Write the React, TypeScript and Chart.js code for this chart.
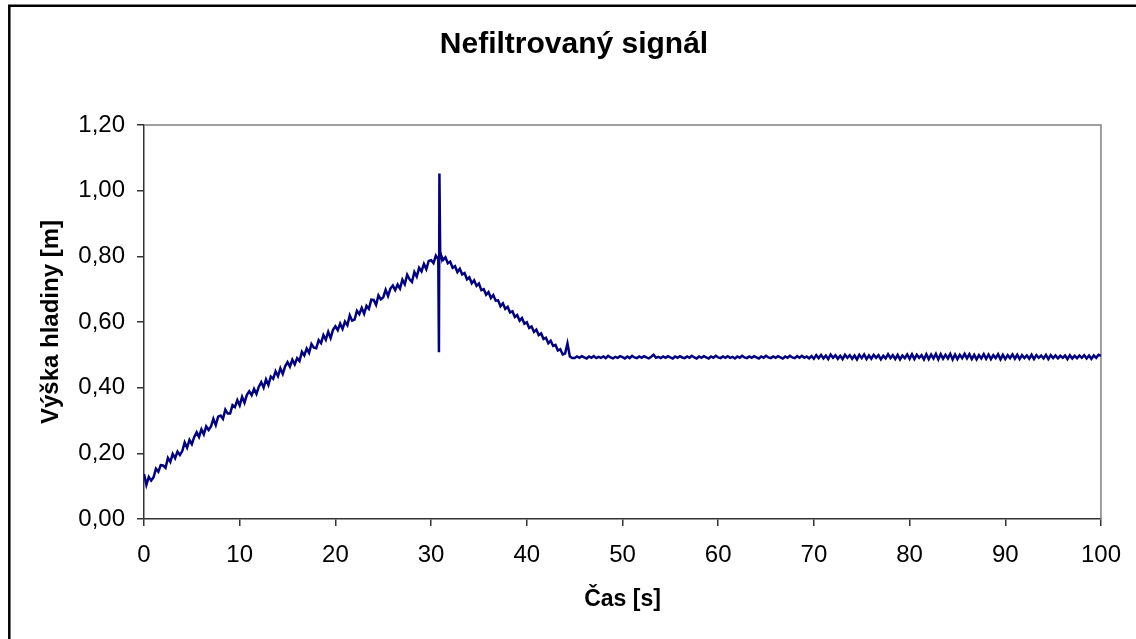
import React, { useEffect, useRef } from "react";
import { Chart, registerables } from "chart.js";

Chart.register(...registerables);

const TITLE = "Nefiltrovaný signál";
const X_TITLE = "Čas [s]";
const Y_TITLE = "Výška hladiny [m]";

const SAMPLE_PERIOD_S = 0.25;
const RISING_START_S = 0;
const FALLING_START_S = 31;
const STEADY_START_S = 45;
const X_TICK_VALUES = [0, 10, 20, 30, 40, 50, 60, 70, 80, 90, 100];
const Y_TICK_VALUES = [0, 0.2, 0.4, 0.6, 0.8, 1.0, 1.2];

// t = 0 .. 30.75 s (filling)
const risingLevels = [
  0.137, 0.104, 0.128, 0.117,
  0.127, 0.153, 0.144, 0.164,
  0.163, 0.156, 0.186, 0.174,
  0.198, 0.185, 0.205, 0.195,
  0.207, 0.233, 0.217, 0.241,
  0.228, 0.250, 0.264, 0.250,
  0.273, 0.258, 0.282, 0.271,
  0.282, 0.305, 0.286, 0.312,
  0.315, 0.305, 0.333, 0.321,
  0.321, 0.347, 0.341, 0.362,
  0.346, 0.372, 0.354, 0.378,
  0.389, 0.377, 0.396, 0.381,
  0.403, 0.417, 0.400, 0.425,
  0.408, 0.434, 0.427, 0.450,
  0.435, 0.459, 0.442, 0.465,
  0.478, 0.464, 0.485, 0.471,
  0.490, 0.481, 0.509, 0.498,
  0.519, 0.506, 0.533, 0.522,
  0.520, 0.545, 0.536, 0.560,
  0.546, 0.570, 0.551, 0.576,
  0.587, 0.575, 0.595, 0.579,
  0.601, 0.590, 0.620, 0.604,
  0.607, 0.634, 0.624, 0.643,
  0.625, 0.649, 0.640, 0.668,
  0.667, 0.652, 0.681, 0.669,
  0.675, 0.698, 0.679, 0.702,
  0.711, 0.697, 0.714, 0.702,
  0.729, 0.715, 0.744, 0.730,
  0.722, 0.752, 0.738, 0.765,
  0.754, 0.777, 0.761, 0.786,
  0.788, 0.779, 0.802, 0.791,
];

// measurement spike around t = 30.9 s
const spikeTimes = [30.82, 30.87, 30.95];
const spikeLevels = [0.508, 1.052, 0.812];

// t = 31.0 .. 44.75 s (draining)
const fallingLevels = [
  0.806, 0.789, 0.797, 0.779,
  0.784, 0.765, 0.770, 0.752,
  0.762, 0.745, 0.749, 0.730,
  0.736, 0.718, 0.727, 0.710,
  0.717, 0.697, 0.700, 0.683,
  0.691, 0.673, 0.682, 0.665,
  0.666, 0.648, 0.657, 0.640,
  0.646, 0.629, 0.633, 0.615,
  0.621, 0.604, 0.612, 0.595,
  0.599, 0.582, 0.586, 0.570,
  0.577, 0.560, 0.565, 0.548,
  0.552, 0.535, 0.543, 0.527,
  0.530, 0.513, 0.517, 0.501,
  0.504, 0.535, 0.495, 0.490,
];

// t = 45 .. 100 s (steady level)
const steadyLevels = [
  0.490, 0.495, 0.491, 0.496,
  0.492, 0.489, 0.495, 0.491,
  0.496, 0.490, 0.494, 0.491,
  0.495, 0.490, 0.497, 0.492,
  0.489, 0.494, 0.491, 0.496,
  0.493, 0.489, 0.495, 0.490,
  0.497, 0.492, 0.490, 0.495,
  0.491, 0.496, 0.492, 0.489,
  0.494, 0.500, 0.491, 0.494,
  0.490, 0.495, 0.491, 0.496,
  0.492, 0.489, 0.495, 0.491,
  0.496, 0.492, 0.490, 0.495,
  0.491, 0.497, 0.492, 0.489,
  0.495, 0.491, 0.496, 0.492,
  0.489, 0.495, 0.491, 0.497,
  0.492, 0.490, 0.495, 0.491,
  0.496, 0.491, 0.494, 0.489,
  0.495, 0.491, 0.497, 0.492,
  0.490, 0.495, 0.491, 0.496,
  0.492, 0.489, 0.495, 0.491,
  0.497, 0.492, 0.490, 0.495,
  0.491, 0.496, 0.492, 0.489,
  0.495, 0.491, 0.497, 0.492,
  0.490, 0.496, 0.491, 0.497,
  0.491, 0.495, 0.489, 0.496,
  0.488, 0.499, 0.490, 0.500,
  0.489, 0.498, 0.487, 0.501,
  0.491, 0.499, 0.488, 0.497,
  0.487, 0.500, 0.491, 0.499,
  0.488, 0.498, 0.486, 0.500,
  0.490, 0.501, 0.487, 0.498,
  0.488, 0.500, 0.491, 0.499,
  0.486, 0.497, 0.489, 0.502,
  0.490, 0.499, 0.487, 0.500,
  0.486, 0.498, 0.490, 0.501,
  0.488, 0.502, 0.487, 0.500,
  0.491, 0.499, 0.486, 0.502,
  0.487, 0.501, 0.489, 0.503,
  0.486, 0.502, 0.488, 0.500,
  0.489, 0.503, 0.486, 0.501,
  0.487, 0.500, 0.490, 0.503,
  0.489, 0.502, 0.487, 0.500,
  0.486, 0.499, 0.489, 0.502,
  0.488, 0.501, 0.487, 0.499,
  0.490, 0.502, 0.486, 0.500,
  0.487, 0.499, 0.490, 0.501,
  0.488, 0.500, 0.487, 0.499,
  0.490, 0.498, 0.488, 0.500,
  0.487, 0.499, 0.491, 0.498,
  0.489, 0.500, 0.487, 0.499,
  0.490, 0.498, 0.489, 0.497,
  0.491, 0.498, 0.487, 0.499,
  0.489, 0.497, 0.490, 0.498,
  0.491, 0.499, 0.489, 0.498,
  0.488, 0.498, 0.491, 0.500,
  0.497,
];

const FONT = "'Liberation Sans', Arial, Helvetica, sans-serif";

function buildPoints() {
  const pts: { x: number; y: number }[] = [];
  risingLevels.forEach((y, i) => pts.push({ x: RISING_START_S + i * SAMPLE_PERIOD_S, y }));
  spikeLevels.forEach((y, i) => pts.push({ x: spikeTimes[i], y }));
  fallingLevels.forEach((y, i) => pts.push({ x: FALLING_START_S + i * SAMPLE_PERIOD_S, y }));
  steadyLevels.forEach((y, i) => pts.push({ x: STEADY_START_S + i * SAMPLE_PERIOD_S, y }));
  return pts;
}

export default function App() {
  const ref = useRef<HTMLCanvasElement>(null);

  useEffect(() => {
    if (!ref.current) return;
    const points = buildPoints();

    const framePlugin = {
      id: "frame",
      beforeDraw(chart: any) {
        const ctx = chart.ctx;
        ctx.save();
        ctx.fillStyle = "#ffffff";
        ctx.fillRect(0, 0, chart.width, chart.height);
        ctx.strokeStyle = "#000000";
        ctx.lineWidth = 2.5;
        ctx.beginPath();
        ctx.moveTo(9.3, chart.height + 5);
        ctx.lineTo(9.3, 5.7);
        ctx.lineTo(chart.width + 5, 5.7);
        ctx.stroke();
        ctx.restore();
      },
      beforeDatasetsDraw(chart: any) {
        const { ctx, chartArea } = chart;
        ctx.save();
        ctx.strokeStyle = "#808080";
        ctx.lineWidth = 1.5;
        ctx.beginPath();
        ctx.moveTo(chartArea.left, chartArea.top);
        ctx.lineTo(chartArea.right, chartArea.top);
        ctx.lineTo(chartArea.right, chartArea.bottom);
        ctx.stroke();
        ctx.restore();
      },
    };

    const chart = new Chart(ref.current, {
      type: "line",
      data: {
        datasets: [
          {
            data: points,
            borderColor: "#000080",
            borderWidth: 2.5,
            pointRadius: 0,
            tension: 0,
            fill: false,
          },
        ],
      },
      options: {
        responsive: false,
        animation: false,
        events: [],
        layout: { padding: { left: 12, right: 0, top: 0, bottom: 0 } },
        plugins: {
          legend: { display: false },
          tooltip: { enabled: false },
          title: {
            display: true,
            text: TITLE,
            color: "#000000",
            font: { family: FONT, size: 30, weight: "bold" },
            padding: { top: 26.7, bottom: 62.3 },
          },
        },
        scales: {
          x: {
            type: "linear",
            min: 0,
            max: 100,
            afterBuildTicks: (s: any) => {
              s.ticks = X_TICK_VALUES.map((v) => ({ value: v }));
            },
            afterFit: (s: any) => {
              s.height = 120;
            },
            grid: {
              display: true,
              drawOnChartArea: false,
              drawTicks: true,
              tickLength: 7,
              color: "#333333",
              lineWidth: 1.5,
            },
            border: { display: true, color: "#333333", width: 1.5 },
            ticks: {
              color: "#000000",
              font: { family: FONT, size: 24 },
              padding: 15,
              maxRotation: 0,
              autoSkip: false,
              callback: (v: any) => String(v),
            },
            title: {
              display: true,
              text: X_TITLE,
              color: "#000000",
              font: { family: FONT, size: 23, weight: "bold" },
              padding: { top: 0, bottom: 26 },
            },
          },
          y: {
            type: "linear",
            min: 0,
            max: 1.2,
            afterBuildTicks: (s: any) => {
              s.ticks = Y_TICK_VALUES.map((v) => ({ value: v }));
            },
            afterFit: (s: any) => {
              s.width = 132;
            },
            grid: {
              display: true,
              drawOnChartArea: false,
              drawTicks: true,
              tickLength: 7,
              color: "#333333",
              lineWidth: 1.5,
            },
            border: { display: true, color: "#333333", width: 1.5 },
            ticks: {
              color: "#000000",
              font: { family: FONT, size: 24 },
              padding: 12,
              autoSkip: false,
              callback: (v: any) => Number(v).toFixed(2).replace(".", ","),
            },
            title: {
              display: true,
              text: Y_TITLE,
              color: "#000000",
              font: { family: FONT, size: 24, weight: "bold" },
              padding: { top: 25, bottom: 0 },
            },
          },
          y2: {
            type: "linear",
            position: "right",
            display: true,
            grid: { display: false },
            border: { display: false },
            ticks: { display: false },
            afterFit: (s: any) => {
              s.width = 35;
            },
          },
        },
      },
      plugins: [framePlugin],
    } as any);

    return () => chart.destroy();
  }, []);

  return (
    <div style={{ position: "fixed", left: 0, top: 0, width: 1136, height: 639, background: "#fff" }}>
      <canvas ref={ref} width={1136} height={639} style={{ display: "block", width: 1136, height: 639 }} />
    </div>
  );
}
